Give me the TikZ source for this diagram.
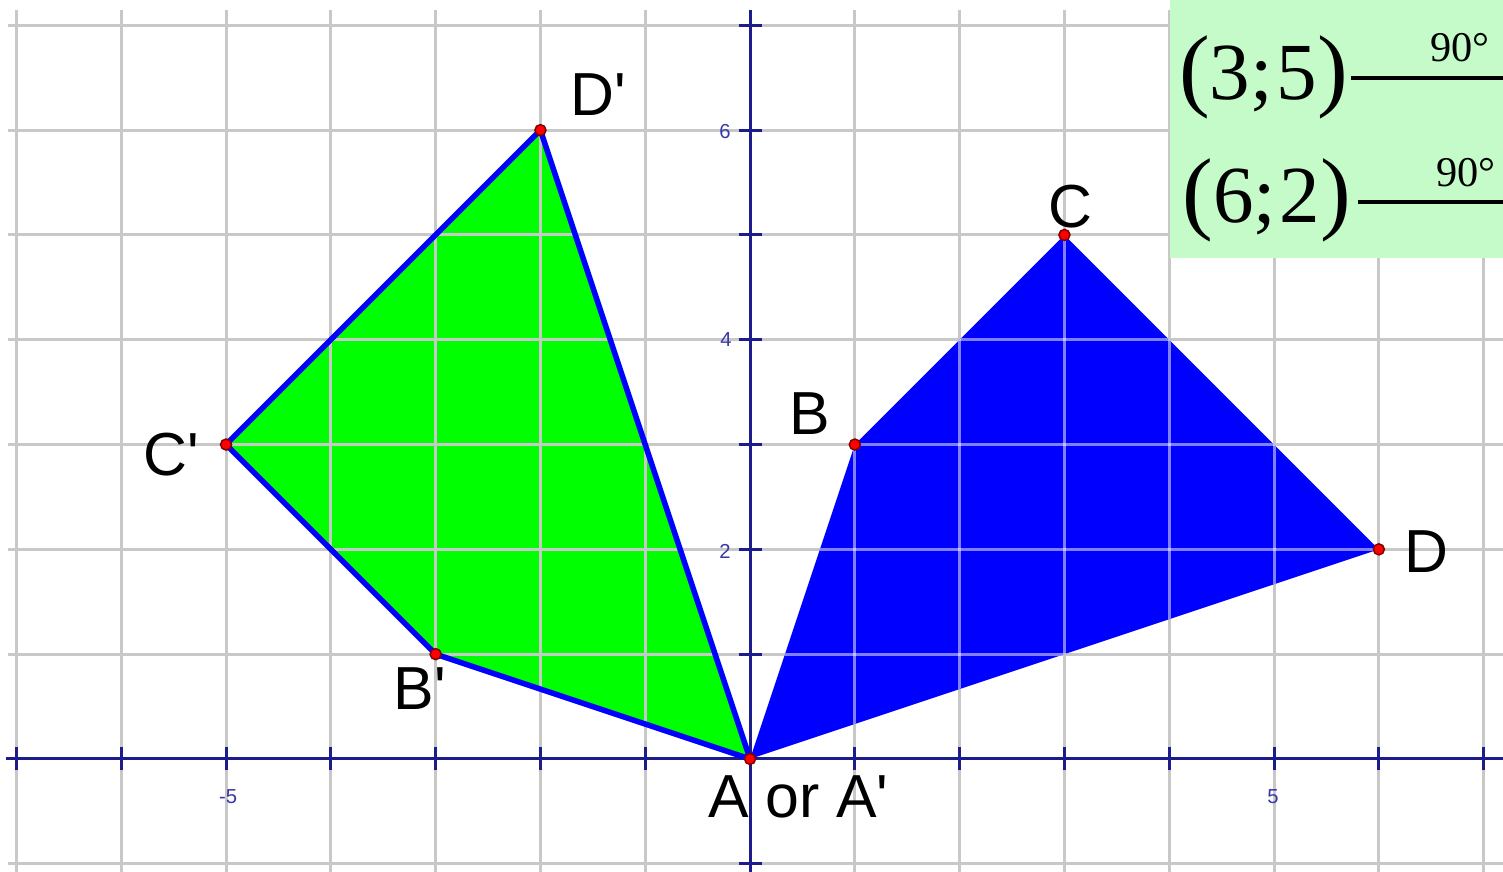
\documentclass[tikz,border=0pt]{standalone}
\usepackage{fontspec}
\setmainfont{Liberation Sans}
\newfontfamily\timesf{Liberation Serif}
\definecolor{gridgray}{HTML}{C8C8C8}
\definecolor{axisblue}{HTML}{1C1C8C}
\definecolor{boxgreen}{HTML}{C4FBC8}
\definecolor{ticklab}{HTML}{3838A8}
\newcommand{\pr}{\textquotesingle}
\begin{document}
\begin{tikzpicture}[x=1cm,y=1cm,
  gridline/.style={gridgray,line width=0.8pt},
  axisline/.style={axisblue,line width=0.8pt},
  ptlabel/.style={font=\fontsize{16.5}{18}\selectfont,inner sep=0pt},
  ticklabel/.style={font=\fontsize{5.5}{6}\selectfont,text=ticklab,inner sep=0pt},
  vertexdot/.style={circle,fill=red,draw=red!50!black,line width=0.4pt,inner sep=0pt,minimum size=3pt},
  mathlab/.style={font=\timesf\fontsize{22}{24}\selectfont,inner sep=0pt},
  anglab/.style={font=\timesf\fontsize{11.5}{12}\selectfont,inner sep=0pt}]
\useasboundingbox (-7.157,-1.078) rectangle (7.185,7.242);
\fill[white] (-7.157,-1.078) rectangle (7.185,7.242);
% grid
\foreach \i in {-7,...,7} \draw[gridline] (\i,-1.078) -- (\i,7.15);
\foreach \j in {-1,...,7} \draw[gridline] (-7.08,\j) -- (7.185,\j);
% vertices
\coordinate (A) at (0,0);
\coordinate (B) at (1,3);
\coordinate (C) at (3,5);
\coordinate (D) at (6,2);
\coordinate (B2) at (-3,1);
\coordinate (C2) at (-5,3);
\coordinate (D2) at (-2,6);
% polygons
\fill[blue] (A) -- (B) -- (C) -- (D) -- cycle;
\fill[green] (A) -- (B2) -- (C2) -- (D2) -- cycle;
\begin{scope}
\clip (A) -- (B) -- (C) -- (D) -- cycle;
\foreach \i in {-7,...,7} \draw[white,opacity=0.5,line width=0.8pt] (\i,-1.078) -- (\i,7.15);
\foreach \j in {-1,...,7} \draw[white,opacity=0.5,line width=0.8pt] (-7.08,\j) -- (7.185,\j);
\end{scope}
\begin{scope}
\clip (A) -- (B2) -- (C2) -- (D2) -- cycle;
\foreach \i in {-7,...,7} \draw[gridgray,line width=0.8pt] (\i,-1.078) -- (\i,7.15);
\foreach \j in {-1,...,7} \draw[gridgray,line width=0.8pt] (-7.08,\j) -- (7.185,\j);
\end{scope}
% axes
\draw[axisline] (-7.1,0) -- (7.185,0);
\draw[axisline] (0,-1.078) -- (0,7.15);
\foreach \i in {-7,...,7} \draw[axisline] (\i,-0.11) -- (\i,0.11);
\foreach \j in {-1,...,7} \draw[axisline] (-0.11,\j) -- (0.11,\j);
% tick labels
\node[ticklabel] (t6) at (-0.24,5.99) {6};
\node[ticklabel] (t4) at (-0.23,4.0) {4};
\node[ticklabel] (t2) at (-0.24,1.98) {2};
\node[ticklabel] (tm5) at (-4.98,-0.36) {-5};
\node[ticklabel] (t5) at (4.99,-0.36) {5};
% green outline
\draw[blue,line width=1.5pt,line join=round] (A) -- (B2) -- (C2) -- (D2) -- cycle;
% dots
\foreach \p in {A,B,C,D,B2,C2,D2} \node[vertexdot] (dot\p) at (\p) {};
% labels
\node[ptlabel] (lD2) at (-1.45,6.34) {D\pr};
\node[ptlabel] (lC) at (3.06,5.27) {C};
\node[ptlabel] (lB) at (0.57,3.30) {B};
\node[ptlabel] (lC2) at (-5.52,2.90) {C\pr};
\node[ptlabel] (lD) at (6.45,1.98) {D};
\node[ptlabel] (lB2) at (-3.15,0.67) {B\pr};
\node[ptlabel] (lA) at (0.46,-0.36) {A or A\pr};
% info box
\fill[boxgreen] (4.008,4.78) rectangle (7.185,7.242);
\node[mathlab] (m1) at (4.90,6.50) {{\fontsize{25}{26}\selectfont(}3;\hspace{1pt}5{\fontsize{25}{26}\selectfont)}};
\node[mathlab] (m2) at (4.93,5.33) {{\fontsize{25}{26}\selectfont(}6;\hspace{1pt}2{\fontsize{25}{26}\selectfont)}};
\coordinate (r1) at (7.185,6.498);
\coordinate (r2) at (7.185,5.315);
\coordinate (s1) at (5.735,6.498);
\coordinate (s2) at (5.802,5.315);
\draw[black,line width=1.1pt] (s1) -- (r1);
\draw[black,line width=1.1pt] (s2) -- (r2);
\node[anglab] (a1) at (6.775,6.785) {90°};
\node[anglab] (a2) at (6.832,5.592) {90°};
\end{tikzpicture}
\end{document}
